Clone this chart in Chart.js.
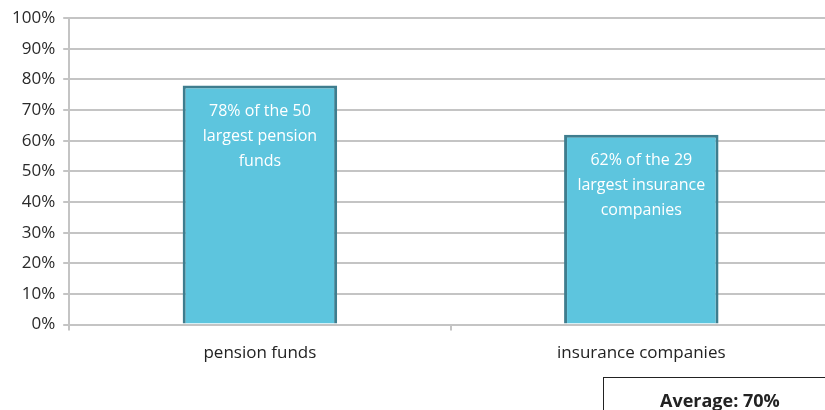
<!DOCTYPE html>
<html lang="en">
<head>
  <meta charset="UTF-8" />
  <title>Share of largest funds</title>
  <script src="https://cdn.jsdelivr.net/npm/chart.js"></script>
  <style>
    body {
      margin: 0;
      background: #fff;
      overflow: hidden;
      font-family: 'Open Sans', sans-serif;
    }
    .wrap {
      position: relative;
      width: 825px;
      height: 410px;
      overflow: hidden;
    }
    #avgBox {
      position: absolute;
      left: 603px;
      top: 377px;
      width: 240px;
      height: 40px;
      border: 1px solid #222;
      box-sizing: border-box;
      font-weight: bold;
      font-size: 18px;
      color: #222;
      padding: 10px 0 0 56px;
    }
  </style>
</head>
<body>
  <div class="wrap">
    <canvas id="chart" width="832" height="410"></canvas>
    <div id="avgBox"></div>
  </div>

  <script>
    const categories = ["pension funds", "insurance companies"];
    const shares = [78, 62];
    const barNotes = [
      ["78% of the 50", "largest pension", "funds"],
      ["62% of the 29", "largest insurance", "companies"]
    ];
    const averageShare = 70;

    document.getElementById("avgBox").textContent = `Average: ${averageShare}%`;

    // white text written near the top of each bar
    const barNotesPlugin = {
      id: "barNotes",
      afterDatasetsDraw(chart) {
        const ctx = chart.ctx;
        const meta = chart.getDatasetMeta(0);
        ctx.save();
        ctx.fillStyle = "#fff";
        ctx.font = "16px 'Open Sans', sans-serif";
        ctx.textAlign = "center";
        ctx.textBaseline = "middle";
        meta.data.forEach((bar, i) => {
          barNotes[i].forEach((line, j) => {
            ctx.fillText(line, bar.x, bar.y + 26 + j * 25);
          });
        });
        ctx.restore();
      }
    };

    new Chart(document.getElementById("chart"), {
      type: "bar",
      data: {
        labels: categories,
        datasets: [{
          data: shares,
          backgroundColor: "#5DC5DE",
          borderColor: "#3E7D8E",
          borderWidth: 3,
          barPercentage: 0.81,
          categoryPercentage: 0.5
        }]
      },
      options: {
        responsive: false,
        animation: false,
        layout: { padding: { top: 6, left: 4, bottom: 35 } },
        plugins: {
          legend: { display: false },
          tooltip: { enabled: false }
        },
        scales: {
          y: {
            min: 0,
            max: 100,
            ticks: {
              stepSize: 10,
              color: "#2a2a2a",
              font: { size: 17, family: "'Open Sans', sans-serif" },
              padding: 8,
              callback: v => v + "%"
            },
            grid: { color: "#c4c4c4", lineWidth: 2, tickLength: 6 },
            border: { color: "#c4c4c4", width: 2 }
          },
          x: {
            ticks: {
              color: "#222",
              font: { size: 17, family: "'Open Sans', sans-serif" },
              padding: 12
            },
            grid: { drawOnChartArea: false, color: "#c4c4c4", lineWidth: 2, tickLength: 6 },
            border: { color: "#c4c4c4", width: 2 }
          }
        }
      },
      plugins: [barNotesPlugin]
    });
  </script>
</body>
</html>
